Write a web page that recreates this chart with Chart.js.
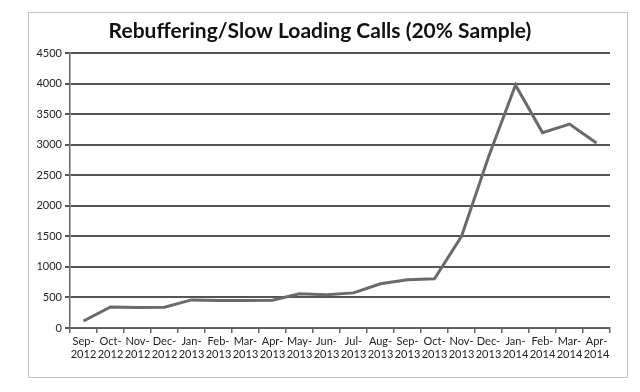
<!DOCTYPE html>
<html>
<head>
<meta charset="utf-8">
<script src="https://cdn.jsdelivr.net/npm/chart.js@4.4.1/dist/chart.umd.min.js"></script>
<style>
  body { margin: 0; background: #fff; }
  #frame { position: absolute; left: 28px; top: 12px; width: 598px; height: 364px; border: 1px solid #c4c4c4; }
  #callsChart { position: absolute; left: 0; top: 0; }
</style>
</head>
<body>
<div id="frame"></div>
<canvas id="callsChart" width="640" height="392"></canvas>
<script>
   // Rebuffering / slow loading calls, monthly (20% sample)
   const months = ['Sep', 'Oct', 'Nov', 'Dec', 'Jan', 'Feb', 'Mar', 'Apr', 'May', 'Jun', 'Jul', 'Aug',
                   'Sep', 'Oct', 'Nov', 'Dec', 'Jan', 'Feb', 'Mar', 'Apr'];
   const years = ['2012', '2012', '2012', '2012', '2013', '2013', '2013', '2013', '2013', '2013', '2013', '2013',
                  '2013', '2013', '2013', '2013', '2014', '2014', '2014', '2014'];
   const calls = [115, 345, 335, 340, 460, 450, 450, 455, 560, 545, 575, 725,
                  790, 805, 1500, 2800, 3980, 3200, 3340, 3030];
   const yTicks = [0, 500, 1000, 1500, 2000, 2500, 3000, 3500, 4000, 4500];

   const labels = months.map((m, i) => [m + '-', years[i]]);

   const ctx = document.getElementById('callsChart').getContext('2d');
   new Chart(ctx, {
       type: 'line',
       data: {
           labels: labels,
           datasets: [{
               label: 'Calls',
               data: calls,
               borderColor: '#6a6a6a',
               borderWidth: 3,
               pointRadius: 0,
               tension: 0,
               fill: false
           }]
       },
       options: {
           responsive: false,
           animation: false,
           layout: { padding: { left: 30, right: 30, top: 14, bottom: 0 } },
           plugins: {
               legend: { display: false },
               tooltip: { enabled: false },
               title: {
                   display: true,
                   text: 'Rebuffering/Slow Loading Calls (20% Sample)',
                   color: '#111',
                   font: { family: 'Lato', size: 21, weight: 'bold' },
                   padding: { top: 5, bottom: 9 }
               }
           },
           scales: {
               x: {
                   offset: true,
                   afterFit: s => { s.height = 64; },
                   border: { color: '#666', width: 1.5 },
                   grid: { offset: true, drawOnChartArea: false, drawTicks: true, tickLength: 5, color: '#666', lineWidth: 1.5 },
                   ticks: {
                       color: '#222',
                       font: { family: 'Lato', size: 11 },
                       maxRotation: 0,
                       autoSkip: false,
                       padding: 2
                   }
               },
               y: {
                   min: 0,
                   max: 4500,
                   afterFit: s => { s.width = 40; },
                   afterBuildTicks: s => { s.ticks = yTicks.map(v => ({ value: v })); },
                   border: { color: '#666', width: 1.5 },
                   grid: { color: '#555', lineWidth: 2, tickLength: 5 },
                   ticks: {
                       color: '#222',
                       font: { family: 'Lato', size: 11 },
                       padding: 3,
                       callback: v => String(v)
                   }
               }
           }
       }
   });
</script>
</body>
</html>
